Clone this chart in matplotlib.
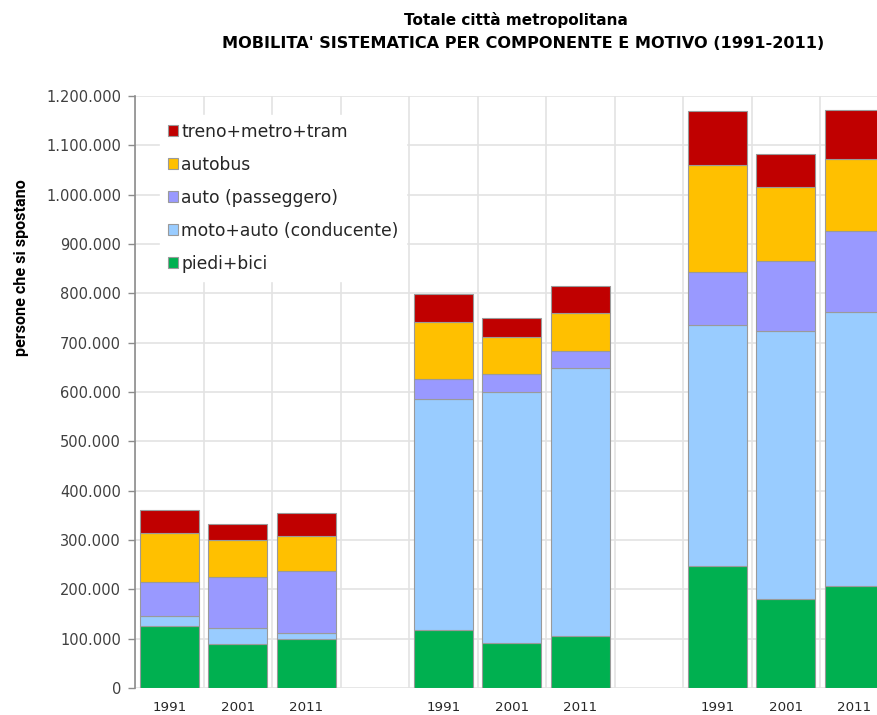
import matplotlib
matplotlib.use("Agg")
from matplotlib import pyplot as plt
from matplotlib.patches import Patch
from matplotlib.ticker import FuncFormatter, MultipleLocator

# mobilita' sistematica, three groups of census years
years = ["1991", "2001", "2011", "1991", "2001", "2011", "1991", "2001", "2011"]
slots = [0, 1, 2, 4, 5, 6, 8, 9, 10]

piedi_bici = [126000, 89000, 100000, 117000, 91000, 105000, 248000, 180000, 206000]
moto_auto_conducente = [20000, 32000, 12000, 469000, 510000, 544000, 487000, 544000, 556000]
auto_passeggero = [69000, 105000, 126000, 40000, 36000, 35000, 109000, 141000, 164000]
autobus = [100000, 74000, 70000, 115000, 74000, 77000, 216000, 150000, 146000]
treno_metro_tram = [46000, 32000, 46000, 58000, 38000, 54000, 110000, 68000, 100000]

series = [
    ("piedi+bici", piedi_bici, "#00B050"),
    ("moto+auto (conducente)", moto_auto_conducente, "#99CCFF"),
    ("auto (passeggero)", auto_passeggero, "#9999FF"),
    ("autobus", autobus, "#FFC000"),
    ("treno+metro+tram", treno_metro_tram, "#C00000"),
]

plt.rcParams["font.family"] = ["DejaVu Sans"]

fig = plt.figure(figsize=(8.77, 7.15), dpi=100)
ax = fig.add_axes([135 / 877, 1 - 688 / 715, 1 - 135 / 877, (688 - 96) / 715])

bottom = [0] * len(slots)
for name, vals, col in series:
    ax.bar(slots, vals, width=0.86, bottom=bottom, color=col,
           edgecolor="#9a9a9a", linewidth=0.8, zorder=3)
    bottom = [b + v for b, v in zip(bottom, vals)]

ax.yaxis.set_major_locator(MultipleLocator(100000))
ax.yaxis.set_major_formatter(FuncFormatter(lambda v, p: f"{int(v):,}".replace(",", ".")))
ax.set_xticks(slots)
ax.set_xticklabels(years)
ax.set_xticks([s + 0.5 for s in range(-1, 11)], minor=True)

# limits after the ticks, otherwise set_xticks widens the view
ax.set_xlim(-0.5, -0.5 + (877 - 135) / 68.5)
ax.set_ylim(0, 1200000)

ax.tick_params(axis="x", which="both", length=0, pad=9.5, labelsize=9.6, labelcolor="#262626")
ax.tick_params(axis="y", length=5, width=1, color="#8c8c8c", pad=5, labelsize=10.5, labelcolor="#404040")

ax.grid(axis="y", which="major", color="#e3e3e3", linewidth=1.2, zorder=0)
ax.grid(axis="x", which="minor", color="#e3e3e3", linewidth=1.2, zorder=0)

for side in ["top", "right", "bottom"]:
    ax.spines[side].set_visible(False)
ax.spines["left"].set_color("#8c8c8c")
ax.spines["left"].set_linewidth(1.2)

handles = [Patch(facecolor=col, edgecolor="#9a9a9a", linewidth=0.8, label=name)
           for name, vals, col in reversed(series)]
leg = ax.legend(handles=handles, loc="upper left",
                bbox_to_anchor=((160 - 135) / 742, (688 - 115) / 592),
                frameon=True, fancybox=False, framealpha=1, edgecolor="white",
                fontsize=12.3, handlelength=0.6, handleheight=0.6, handletextpad=0.2,
                labelspacing=0.88, borderpad=0.45, borderaxespad=0)
leg.set_zorder(5)
for t in leg.get_texts():
    t.set_color("#262626")

fig.text(22 / 877, 1 - 268 / 715, "persone che si spostano", rotation=90,
         ha="center", va="center", fontsize=11.6, fontweight="bold",
         family=["Roboto", "DejaVu Sans"])
fig.text(516 / 877, 1 - 20 / 715, "Totale città metropolitana", ha="center", va="center",
         fontsize=11, fontweight="bold")
fig.text(523 / 877, 1 - 44 / 715, "MOBILITA' SISTEMATICA PER COMPONENTE E MOTIVO (1991-2011)",
         ha="center", va="center", fontsize=11.6, fontweight="bold")

fig.savefig("out.png", dpi=100)
